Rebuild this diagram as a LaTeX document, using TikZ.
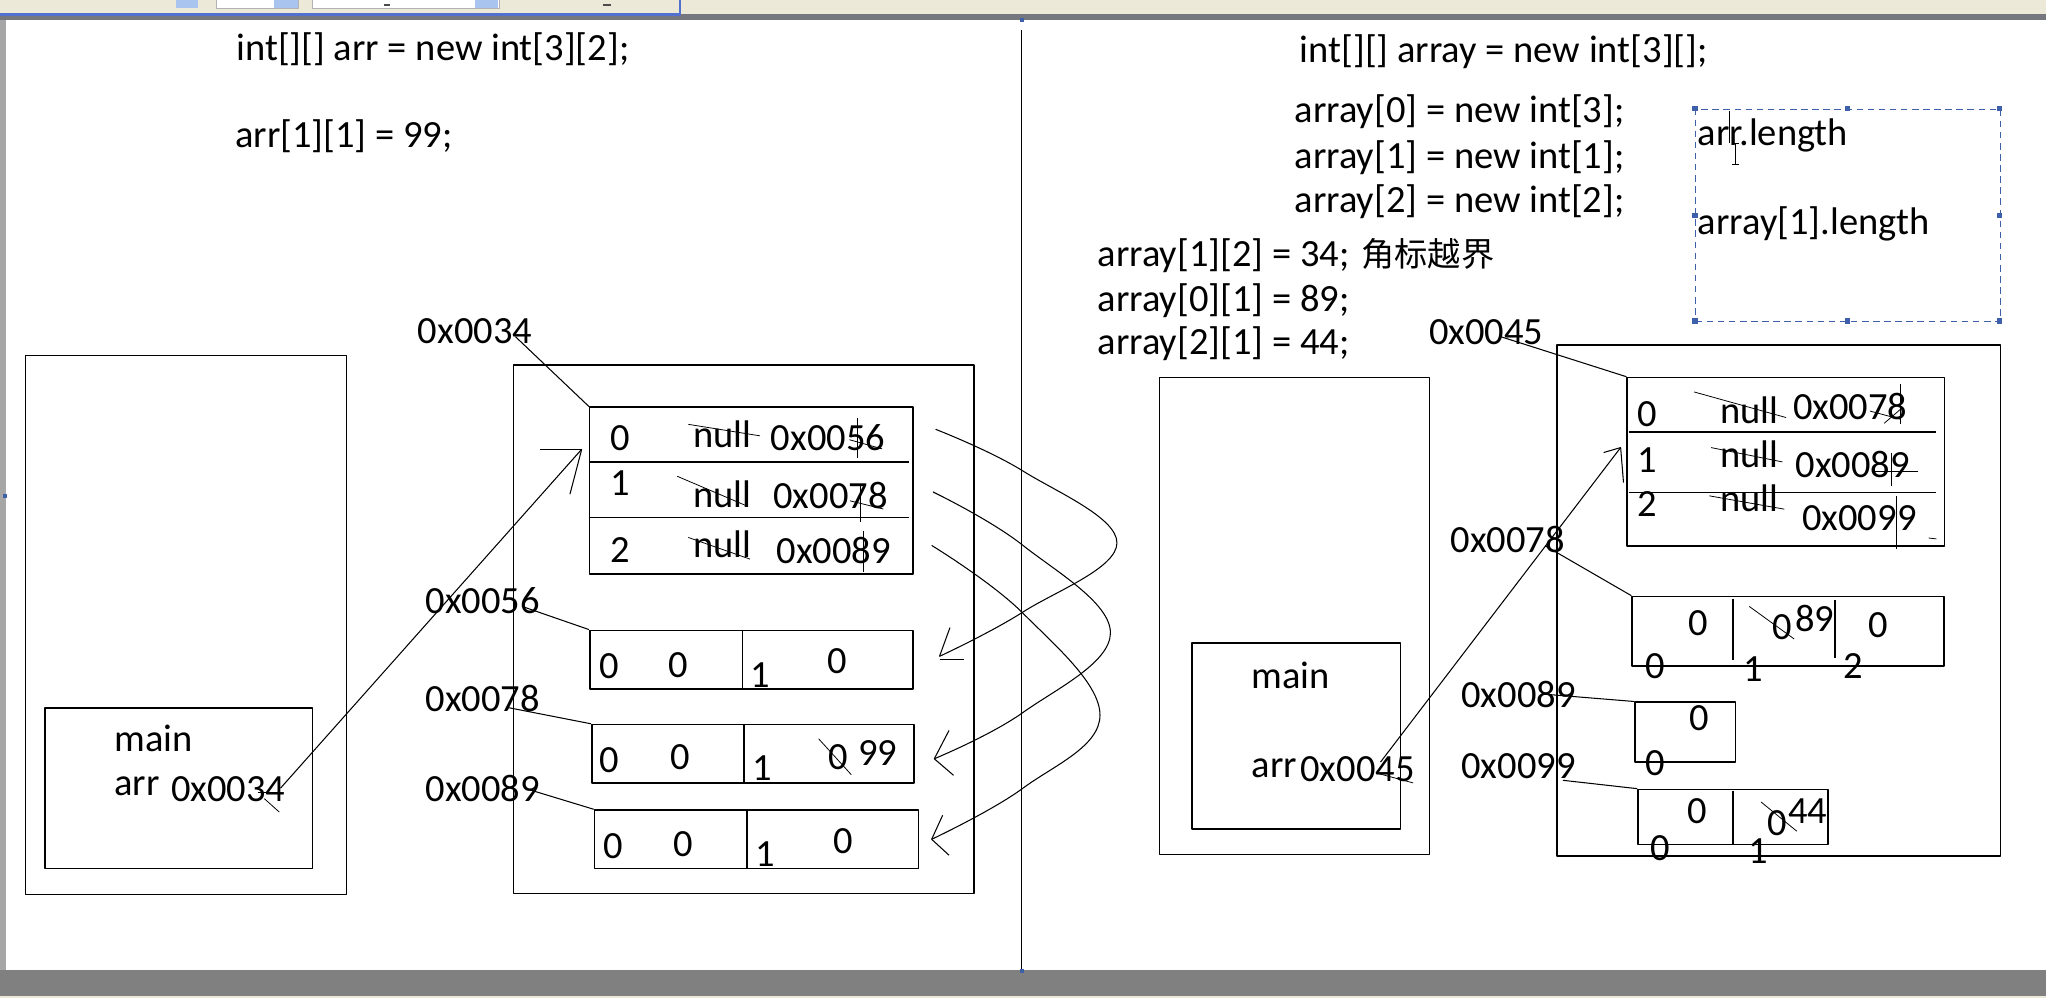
\documentclass[tikz,border=0pt]{standalone}
\usepackage{fontspec}
\setmainfont{Carlito}
\newfontfamily\cjk{Noto Sans CJK SC}
\definecolor{winbeige}{RGB}{236,233,216}
\definecolor{winblue}{RGB}{84,112,206}
\definecolor{btnblue}{RGB}{170,196,240}
\definecolor{bandgray}{RGB}{128,128,128}
\definecolor{linegray}{RGB}{118,118,126}
\definecolor{selblue}{RGB}{62,96,170}
\begin{document}
\begin{tikzpicture}[x=1pt,y=-1pt,line join=round,
  txt/.style={inner sep=0pt,anchor=base west,font=\fontsize{29.5}{35}\selectfont},
  cjktxt/.style={inner sep=0pt,anchor=base west,font=\cjk\fontsize{25.5}{30}\selectfont},
  box/.style={draw,line width=1.2pt,inner sep=0pt,anchor=north west},
  ln/.style={line width=0.8pt},
  strk/.style={line width=0.6pt},
  handle/.style={fill=selblue,minimum size=4pt,inner sep=0pt}]
\useasboundingbox (0,0) rectangle (1568,765);
\fill[white] (0,0) rectangle (1568,765);
% window chrome
\fill[winbeige] (0,0) rectangle (1568,11);
\fill[linegray] (0,11) rectangle (1568,15.5);
\filldraw[fill=winbeige,draw=winblue,line width=2pt] (-3,-5) rectangle (521,11);
\fill[btnblue] (135,-2) rectangle (152,6);
\filldraw[fill=white,draw=gray!60,line width=0.5pt] (166,-2) rectangle (229,6);
\fill[btnblue] (210,-2) rectangle (228,6);
\filldraw[fill=white,draw=gray!60,line width=0.5pt] (239,-2) rectangle (383,6);
\fill[btnblue] (364,-2) rectangle (382,6);
\fill[black!70] (294,3) rectangle (299,4.5);
\fill[black!70] (462,3) rectangle (468,4.5);
\fill[bandgray] (0,743) rectangle (1568,763);
\fill[winbeige] (0,763) rectangle (1568,765);
\fill[gray!70] (0,15.5) rectangle (4.5,743);
% divider
\draw[line width=1pt] (783,23) -- (783,743);
\node[handle,minimum size=3pt] (hd1) at (783,15) {};
\node[handle,minimum size=3pt] (hd2) at (783,744) {};
\node[handle,minimum size=3pt] (hd3) at (4,380) {};

% ---------------- left half ----------------
\node[txt] (code1) at (181,46) {int[][] arr = new int[3][2];};
\node[txt] (code2) at (180,113) {arr[1][1] = 99;};

\node[box,minimum width=246pt,minimum height=413pt] (stackL) at (19,272) {};
\node[box,minimum width=205pt,minimum height=123pt] (mainL) at (34,542) {};
\node[txt] (mainLt) at (87.5,576) {main};
\node[txt] (arrL) at (87.5,609.5) {arr};
\node[txt] (arrLv) at (131,614) {0x0034};

\node[box,minimum width=353pt,minimum height=405pt] (heapL) at (393,279) {};
\node[txt] (lab34) at (320,263) {0x0034};

\node[box,minimum width=248pt,minimum height=127.7pt] (tab1) at (451.3,311.5) {};
\draw[line width=1.2pt] (451.3,354) -- (697,354);
\draw[line width=1.2pt] (451.3,396.6) -- (697,396.6);
\node[txt] (r0i) at (468,345) {0};
\node[txt] (r0n) at (531,343) {null};
\node[txt] (r0v) at (590.6,345.6) {0x0056};
\node[txt] (r1i) at (468,380) {1};
\node[txt] (r1n) at (531,389) {null};
\node[txt] (r1v) at (592.5,390) {0x0078};
\node[txt] (r2i) at (468,431) {2};
\node[txt] (r2n) at (531,427) {null};
\node[txt] (r2v) at (595,432) {0x0089};
\draw[strk] (527.5,325.2) -- (582.4,334);
\draw[strk] (657.3,320) -- (657.3,350.7);
\draw[strk] (651,337) -- (676,344);
\draw[strk] (519,365) -- (572,387.6);
\draw[strk] (659,371) -- (659,400);
\draw[strk] (651.4,383.8) -- (677,390.1);
\draw[strk] (527.5,411.9) -- (574.8,428.5);
\draw[strk] (661.6,406.8) -- (661.6,438.7);

\node[txt] (lab56) at (326,469.8) {0x0056};
\node[box,minimum width=247.6pt,minimum height=45pt] (boxA) at (451.4,482.5) {};
\draw[line width=1.2pt] (569,482.5) -- (569,527.4);
\node[txt] (a1) at (459,520) {0};
\node[txt] (a2) at (512.4,519) {0};
\node[txt] (a3) at (575,526.7) {1};
\node[txt] (a4) at (633.8,516.5) {0};

\node[txt] (lab78) at (326,545.3) {0x0078};
\node[box,minimum width=247pt,minimum height=44.6pt] (boxB) at (453,554.7) {};
\draw[line width=1.2pt] (570,554.7) -- (570,599.3);
\node[txt] (b1) at (459,592) {0};
\node[txt] (b2) at (513.9,590) {0};
\node[txt] (b3) at (576.5,598) {1};
\node[txt] (b4) at (634.8,589.6) {0};
\node[txt] (b5) at (657.4,586.6) {99};
\draw[strk] (627.4,566.2) -- (652.4,593.7);

\node[txt] (lab89) at (326,614) {0x0089};
\node[box,minimum width=248.3pt,minimum height=44.8pt] (boxC) at (455,620.2) {};
\draw[line width=1.2pt] (572.4,620.2) -- (572.4,665);
\node[txt] (c1) at (462.4,658) {0};
\node[txt] (c2) at (515.8,656.7) {0};
\node[txt] (c3) at (578.9,664.4) {1};
\node[txt] (c4) at (638.8,654) {0};

% pointer lines left
\coordinate (p34) at (395,258);
\draw[ln] (p34) -- (tab1.north west);
\coordinate (p56) at (400,464.7);
\draw[ln] (p56) -- (boxA.north west);
\coordinate (p78) at (388,542);
\draw[ln] (p78) -- (boxB.north west);
\coordinate (p89) at (405,605);
\draw[ln] (p89) -- (boxC.north west);

% arrow main -> table
\coordinate (mL) at (215,604);
\coordinate (tipL) at (445.8,344.3);
\draw[ln] (mL) -- (tipL);
\draw[ln] (tipL) -- (414,344.3);
\draw[ln] (tipL) -- (436.8,378.7);
\draw[strk] (197.6,607.5) -- (215.3,607.5);
\draw[strk] (202.5,612) -- (214,622.3);

% curved arrows
\coordinate (k1s) at (717,329);
\coordinate (k1e) at (720,503);
\draw[ln] plot[smooth,tension=0.65] coordinates {(k1s) (784,361) (856,416) (784,469) (k1e)};
\draw[ln] (k1e) -- (728,481);
\draw[ln] (720,505.5) -- (739,505.5);
\coordinate (k2s) at (715,377);
\coordinate (k2e) at (716,581.5);
\draw[ln] plot[smooth,tension=0.65] coordinates {(k2s) (784,418) (851,485) (784,546) (k2e)};
\draw[ln] (k2e) -- (727.3,559.8);
\draw[ln] (k2e) -- (730.8,594.2);
\coordinate (k3s) at (714,418);
\coordinate (k3e) at (714,643.2);
\draw[ln] plot[smooth,tension=0.65] coordinates {(k3s) (784,470) (843,548) (784,604) (k3e)};
\draw[ln] (k3e) -- (722.4,624.8);
\draw[ln] (k3e) -- (727.3,655.4);

% ---------------- right half ----------------
\node[txt] (code3) at (996,48) {int[][] array = new int[3][];};
\node[txt] (code4) at (992,94) {array[0] = new int[3];};
\node[txt] (code5) at (992,129) {array[1] = new int[1];};
\node[txt] (code6) at (992,163) {array[2] = new int[2];};
\node[txt] (code7) at (841,204) {array[1][2] = 34;};
\node[cjktxt] (code7c) at (1043,204) {角标越界};
\node[txt] (code8) at (841,238.5) {array[0][1] = 89;};
\node[txt] (code9) at (841,272) {array[2][1] = 44;};

\node[draw=selblue,dashed,dash pattern=on 5pt off 3.5pt,line width=1pt,inner sep=0pt,anchor=north west,minimum width=233.6pt,minimum height=162.6pt] (note) at (1299,83.4) {};
\foreach \hx/\hy [count=\i] in {1299/83.4,1416/83.4,1532.6/83.4,1299/165,1532.6/165,1299/246,1416/246,1532.6/246}
  \node[handle] (h\i) at (\hx,\hy) {};
\node[txt] (len1) at (1301,111.5) {arr.length};
\node[txt] (len2) at (1301,180) {array[1].length};
\draw[line width=0.7pt] (1325.3,85.4) -- (1325.3,109.7);
\draw[line width=0.8pt] (1330.3,110) -- (1330.3,126);
\draw[line width=0.6pt] (1327.5,110) -- (1333,110);
\draw[line width=0.6pt] (1327.5,126) -- (1333,126);

\node[box,minimum width=207pt,minimum height=365.5pt] (stackR) at (888,288.7) {};
\node[box,minimum width=159.8pt,minimum height=142.3pt] (mainR) at (913,492.2) {};
\node[txt] (mainRt) at (959,527.4) {main};
\node[txt] (arrR) at (959,595.5) {arr};
\node[txt] (arrRv) at (996.4,598.8) {0x0045};

\node[box,minimum width=339.9pt,minimum height=391.4pt] (heapR) at (1192.7,264) {};
\node[txt] (lab45) at (1095,264) {0x0045};

\node[box,minimum width=243.1pt,minimum height=129.1pt] (tab2) at (1246.4,288.7) {};
\draw[line width=1.2pt] (1248.4,331) -- (1483.8,331);
\draw[line width=1.2pt] (1248.4,377.5) -- (1483.8,377.5);
\node[txt] (s0i) at (1255,327) {0};
\node[txt] (s0n) at (1318,324.4) {null};
\node[txt] (s0v) at (1374,321.3) {0x0078};
\node[txt] (s1i) at (1255,362) {1};
\node[txt] (s1n) at (1318,358.3) {null};
\node[txt] (s1v) at (1376,366) {0x0089};
\node[txt] (s2i) at (1255,395.8) {2};
\node[txt] (s2n) at (1318,392) {null};
\node[txt] (s2v) at (1381,406.8) {0x0099};
\draw[strk] (1298.4,300.4) -- (1368.8,320);
\draw[strk] (1456.4,294.6) -- (1456.4,325.2);
\draw[strk] (1433,315) -- (1456.4,321.3);
\draw[strk] (1444,324.4) -- (1456.4,313.7);
\draw[strk] (1311.3,343) -- (1366,354);
\draw[strk] (1449.5,346.9) -- (1449.5,372.4);
\draw[strk] (1437,361) -- (1470,361);
\draw[strk] (1310,380) -- (1367.4,390.2);
\draw[strk] (1453.6,380) -- (1453.6,420.8);
\draw[strk] (1478,412.3) -- (1484,413);

\node[txt] (lab78r) at (1111.4,423.4) {0x0078};
\node[box,minimum width=238.9pt,minimum height=53.5pt] (boxD) at (1250.2,456.5) {};
\draw[line width=1.2pt] (1328.3,459) -- (1328.3,506);
\draw[line width=1.2pt] (1406.3,460) -- (1406.3,504.5);
\node[txt] (d1) at (1293.5,487) {0};
\node[txt] (d2) at (1357.8,490) {0};
\node[txt] (d3) at (1375.6,484) {89};
\node[txt] (d4) at (1431.7,488.4) {0};
\node[txt] (di0) at (1261.2,520.3) {0};
\node[txt] (di1) at (1335.9,522.3) {1};
\node[txt] (di2) at (1412.5,519.7) {2};
\draw[strk] (1340.5,464.7) -- (1375,489.7);

\node[txt] (lab89r) at (1119.7,542) {0x0089};
\node[box,minimum width=76.9pt,minimum height=45.9pt] (boxE) at (1252.4,537.6) {};
\node[txt] (e1) at (1294.8,559.8) {0};
\node[txt] (ei0) at (1260.7,594.2) {0};

\node[txt] (lab99r) at (1119.7,596.8) {0x0099};
\node[box,minimum width=145.6pt,minimum height=42.1pt] (boxF) at (1254.7,604.4) {};
\draw[line width=1.2pt] (1328.3,606.5) -- (1328.3,647.8);
\node[txt] (f1) at (1292.9,631.2) {0};
\node[txt] (f2) at (1354.3,640.1) {0};
\node[txt] (f3) at (1370.2,631.2) {44};
\node[txt] (fi0) at (1264.8,659.3) {0};
\node[txt] (fi1) at (1340,661.8) {1};
\draw[strk] (1349.6,614.6) -- (1377,637);

% pointer lines right
\coordinate (q45) at (1150,258);
\draw[ln] (q45) -- (tab2.north west);
\coordinate (q78) at (1184,418.2);
\draw[ln] (q78) -- (boxD.north west);
\coordinate (q89) at (1181.3,531.8);
\draw[ln] (q89) -- (boxE.north west);
\coordinate (q99) at (1197.7,598);
\draw[ln] (q99) -- (boxF.north west);

% arrow main -> table (right)
\coordinate (mR) at (1058,584);
\coordinate (tipR) at (1242,343);
\draw[ln] (mR) -- (tipR);
\draw[ln] (tipR) -- (1229,346.8);
\draw[ln] (tipR) -- (1244.2,369.8);
\draw[strk] (1057,593) -- (1083,600);
\end{tikzpicture}
\end{document}
